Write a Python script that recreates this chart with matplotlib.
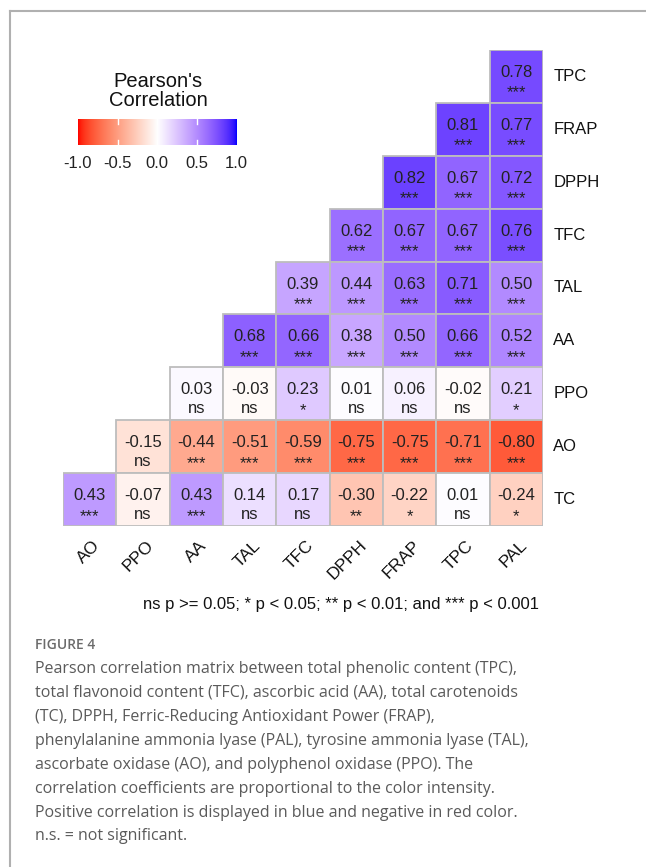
import numpy as np
import matplotlib.pyplot as plt
from matplotlib.colors import ListedColormap
from matplotlib.lines import Line2D
from matplotlib.patches import Rectangle

# row / column order as in the figure (rows top -> bottom)
rows = ["TPC", "FRAP", "DPPH", "TFC", "TAL", "AA", "PPO", "AO", "TC"]
cols = ["AO", "PPO", "AA", "TAL", "TFC", "DPPH", "FRAP", "TPC", "PAL"]

# each row holds the values of the right-most columns (upper triangle shape)
r_TPC = [0.78]
r_FRAP = [0.81, 0.77]
r_DPPH = [0.82, 0.67, 0.72]
r_TFC = [0.62, 0.67, 0.67, 0.76]
r_TAL = [0.39, 0.44, 0.63, 0.71, 0.50]
r_AA = [0.68, 0.66, 0.38, 0.50, 0.66, 0.52]
r_PPO = [0.03, -0.03, 0.23, 0.01, 0.06, -0.02, 0.21]
r_AO = [-0.15, -0.44, -0.51, -0.59, -0.75, -0.75, -0.71, -0.80]
r_TC = [0.43, -0.07, 0.43, 0.14, 0.17, -0.30, -0.22, 0.01, -0.24]

s_TPC = ["***"]
s_FRAP = ["***", "***"]
s_DPPH = ["***", "***", "***"]
s_TFC = ["***", "***", "***", "***"]
s_TAL = ["***", "***", "***", "***", "***"]
s_AA = ["***", "***", "***", "***", "***", "***"]
s_PPO = ["ns", "ns", "*", "ns", "ns", "ns", "*"]
s_AO = ["ns", "***", "***", "***", "***", "***", "***", "***"]
s_TC = ["***", "ns", "***", "ns", "ns", "**", "*", "ns", "*"]

vals = [r_TPC, r_FRAP, r_DPPH, r_TFC, r_TAL, r_AA, r_PPO, r_AO, r_TC]
sigs = [s_TPC, s_FRAP, s_DPPH, s_TFC, s_TAL, s_AA, s_PPO, s_AO, s_TC]

caption = ("Pearson correlation matrix between total phenolic content (TPC),\n"
           "total flavonoid content (TFC), ascorbic acid (AA), total carotenoids\n"
           "(TC), DPPH, Ferric-Reducing Antioxidant Power (FRAP),\n"
           "phenylalanine ammonia lyase (PAL), tyrosine ammonia lyase (TAL),\n"
           "ascorbate oxidase (AO), and polyphenol oxidase (PPO). The\n"
           "correlation coefficients are proportional to the color intensity.\n"
           "Positive correlation is displayed in blue and negative in red color.\n"
           "n.s. = not significant.")


# red - white - blue gradient interpolated in Lab space (like ggplot)
M = np.array([[0.4124, 0.3576, 0.1805],
              [0.2126, 0.7152, 0.0722],
              [0.0193, 0.1192, 0.9505]])
WHITE = M @ np.ones(3)


def to_lab(rgb):
    c = np.asarray(rgb, float)
    lin = np.where(c <= 0.04045, c / 12.92, ((c + 0.055) / 1.055) ** 2.4)
    xyz = (M @ lin) / WHITE
    f = np.where(xyz > 0.008856, np.cbrt(xyz), 7.787 * xyz + 16 / 116)
    return np.array([116 * f[1] - 16, 500 * (f[0] - f[1]), 200 * (f[1] - f[2])])


def from_lab(lab):
    L, a, b = lab
    fy = (L + 16) / 116
    f = np.array([fy + a / 500, fy, fy - b / 200])
    xyz = np.where(f ** 3 > 0.008856, f ** 3, (f - 16 / 116) / 7.787) * WHITE
    lin = np.linalg.solve(M, xyz)
    lin = np.clip(lin, 0, 1)
    c = np.where(lin <= 0.0031308, 12.92 * lin, 1.055 * lin ** (1 / 2.4) - 0.055)
    return np.clip(c, 0, 1)


lab_r, lab_w, lab_b = to_lab([1, 0, 0]), to_lab([1, 1, 1]), to_lab([0, 0, 1])
colors = []
for t in np.linspace(-1, 1, 256):
    if t < 0:
        colors.append(from_lab(lab_w + (lab_r - lab_w) * (-t)))
    else:
        colors.append(from_lab(lab_w + (lab_b - lab_w) * t))
cmap = ListedColormap(colors)

n = len(rows)

W, H = 646, 867
fig = plt.figure(figsize=(W / 100, H / 100), dpi=100)
fig.patch.set_facecolor("white")
plt.rcParams["font.family"] = ["Liberation Sans", "DejaVu Sans"]

# panel frame
fig.add_artist(Line2D([10 / W, 1], [1 - 11 / H, 1 - 11 / H], color="#b0b0b0", lw=1.5))
fig.add_artist(Line2D([10 / W, 10 / W], [1 - 11 / H, 0], color="#b0b0b0", lw=1.5))

x0, x1, y0, y1 = 63, 543, 50, 526
ax = fig.add_axes([x0 / W, 1 - y1 / H, (x1 - x0) / W, (y1 - y0) / H])
ax.set_xlim(0, n)
ax.set_ylim(n, 0)
ax.axis("off")

for i in range(n):
    k = n - len(vals[i])
    for j, (v, s) in enumerate(zip(vals[i], sigs[i])):
        cx, cy = k + j + 0.5, i + 0.5
        ax.add_patch(Rectangle((k + j, i), 1, 1, facecolor=cmap((v + 1) / 2),
                               edgecolor="#bdbdbd", lw=1.3))
        ax.text(cx, cy + 0.01, "%.2f" % v, ha="center", va="baseline",
                fontsize=12, color="#222222")
        if s == "ns":
            ax.text(cx, cy + 0.37, s, ha="center", va="baseline",
                    fontsize=12, color="#222222")
        else:
            ax.text(cx, cy + 0.40, s, ha="center", va="baseline",
                    fontsize=12, color="#222222")
    ax.text(n + 0.19, i + 0.5, rows[i], ha="left", va="center",
            fontsize=12, color="#111111")

for j, c in enumerate(cols):
    ax.text(j + 0.55, n + 0.22, c, rotation=45, rotation_mode="anchor",
            ha="right", va="top", fontsize=12.5, color="#111111")

# legend
cax = fig.add_axes([78 / W, 1 - 145 / H, 158.5 / W, 25.7 / H])
cax.imshow(np.linspace(-1, 1, 256)[None, :], cmap=cmap, aspect="auto",
           extent=[-1, 1, 0, 1])
for b in [-0.5, 0.0, 0.5]:
    cax.plot([b, b], [0, 0.2], color="white", lw=1)
    cax.plot([b, b], [0.8, 1], color="white", lw=1)
cax.set_xlim(-1, 1)
cax.set_ylim(0, 1)
cax.axis("off")
for b in [-1.0, -0.5, 0.0, 0.5, 1.0]:
    fig.text((78 + (b + 1) / 2 * 158.5) / W, 1 - 163 / H, "%.1f" % b,
             ha="center", va="center", fontsize=12, color="#222222")
fig.text(158 / W, 1 - 91 / H, "Pearson's\nCorrelation", ha="center", va="center",
         fontsize=14.5, linespacing=0.95, color="#111111")

fig.text(341 / W, 1 - 604 / H,
         "ns p >= 0.05; * p < 0.05; ** p < 0.01; and *** p < 0.001",
         ha="center", va="center", fontsize=12, color="#111111")

# caption
fig.text(35 / W, 1 - 645 / H, "FIGURE 4", ha="left", va="center",
         fontsize=10, color="#6b6b6b", family="Open Sans", fontweight="semibold")
fig.text(35 / W, 1 - 661 / H, caption, ha="left", va="top", fontsize=11.5,
         color="#5a5a5a", family="Open Sans", linespacing=1.66)

fig.savefig("out.png", dpi=100)
